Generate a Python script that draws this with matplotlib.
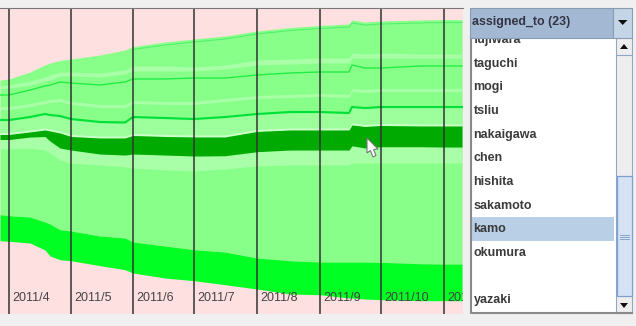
import matplotlib
matplotlib.use("Agg")
import matplotlib.pyplot as plt
from matplotlib.patches import Rectangle, Polygon
import numpy as np

plt.rcParams['font.family'] = ['Liberation Sans', 'DejaVu Sans']

# stream boundaries along the time axis
xs = [0, 9, 30, 45, 50, 60, 71, 100, 125, 133, 165, 194, 225, 257, 290, 320, 349, 352, 365, 381, 420, 444, 462]
top = [80, 79, 72, 65, 63, 60.5, 59, 55, 50, 46.5, 42, 39, 36, 31, 27.5, 25.5, 24, 20, 22, 21, 20, 19.5, 19.5]
a_top = [86, 85, 81, 77, 75, 72, 72, 73, 70, 66, 66, 67, 65, 60, 59, 58, 58, 53, 54, 53, 54, 54, 54]
a_bot = [89, 88, 85, 81, 80, 76, 76, 77, 74, 71, 71, 71, 69, 65, 64, 63, 63, 58, 58, 58, 58, 58, 58]
line1 = [95, 95, 90, 86, 85, 82, 83, 85, 82, 79, 79, 78, 78, 75, 73, 72, 72, 65, 68, 68, 66, 66, 66]
b_mid = [108, 108, 105, 102, 101, 100, 103, 106, 106, 102, 103, 103, 100, 97, 96, 95, 96, 90, 91, 90, 90, 90, 90]
line3 = [120, 120, 117, 114, 115, 116, 119, 122, 122.5, 117, 118, 119, 117, 114, 112, 112, 113, 107, 108, 107, 107, 107, 107]
dark_top = [134.5, 134.5, 132, 130, 131, 133, 136.5, 138, 138, 135.5, 136.5, 137, 137, 131.5, 130, 130, 130, 125, 126.5, 125.5, 126, 126, 126]
dark_bot = [139.5, 139.5, 137, 136.5, 141, 148, 150, 154, 155, 154, 155, 156, 155.7, 151.7, 150, 150, 150, 145.7, 148, 146.7, 146.7, 147, 147]
d_bot = [149, 149, 148, 150, 153, 160, 163, 165, 167, 168, 170, 171, 169, 166, 165, 165, 165, 163, 163, 163, 163, 163, 163]
bright_top = [214.7, 215.7, 217, 222, 224, 229.7, 231, 236, 238, 242, 246, 249.7, 252, 258, 260.7, 262, 262, 262, 262, 262.3, 263.7, 264, 264]
bright_bot = [240.7, 241.3, 243, 250, 256, 259.7, 260.7, 265.7, 269.7, 273, 278, 280.7, 284.7, 289, 294, 294.7, 298, 298, 299, 299.7, 300.7, 300.7, 300.7]

month_pos = [9.3, 70.7, 133.3, 194, 257.3, 320, 380.7, 444]
month_labels = ["2011/4", "2011/5", "2011/6", "2011/7", "2011/8", "2011/9", "2011/10", "201"]

names = ["fujiwara", "taguchi", "mogi", "tsliu", "nakaigawa", "chen", "hishita", "sakamoto", "kamo", "okumura", "", "yazaki"]
selected = "kamo"

MEDIUM = "#88ff88"
LIGHT = "#a8ffa8"
PINK = "#ffe0e0"

fig = plt.figure(figsize=(6.36, 3.26), dpi=100, facecolor="#f0f0f0")

# whole figure in pixels, used for the selector on the right
panel = fig.add_axes([0, 0, 1, 1])
panel.set_xlim(0, 636)
panel.set_ylim(326, 0)
panel.axis('off')

ax = fig.add_axes([0, 1 - 314 / 326, 463 / 636, 306 / 326])
ax.set_xlim(0, 463)
ax.set_ylim(314, 8)
ax.set_facecolor(PINK)
for s in ax.spines.values():
    s.set_visible(False)
ax.spines['top'].set_visible(True)
ax.spines['top'].set_color("#777777")
ax.set_xticks([])
ax.set_yticks([])

x = np.array(xs)
ax.fill_between(x, top, bright_top, color=MEDIUM, lw=0)
ax.fill_between(x, a_top, a_bot, color=LIGHT, lw=0)
ax.fill_between(x, np.array(b_mid) - 1.5, np.array(b_mid) + 1.5, color=LIGHT, lw=0)
ax.fill_between(x, np.array(line3) + 1, dark_top, color="#9cff9c", lw=0)
ax.fill_between(x, np.array(dark_top) - 2, dark_top, color="#ccffcc", lw=0)
ax.fill_between(x, dark_bot, d_bot, color=LIGHT, lw=0)
ax.plot(x, line1, color="#22ee44", lw=1.0)
ax.plot(x, line3, color="#00e03a", lw=1.5)
# thin line under the top edge, only from June on
ax.plot(x[9:], np.array(top[9:]) + 3, color="#55f070", lw=0.8)
ax.fill_between(x, dark_top, dark_bot, color="#00aa00", lw=0)
ax.fill_between(x, bright_top, bright_bot, color="#00ff22", lw=0)

for m, lab in zip(month_pos, month_labels):
    ax.axvline(m, color="#333333", lw=1.1)
    ax.text(m + 3.3, 298, lab, color="#444444", fontsize=9, va='center', ha='left', clip_on=True)

# mouse pointer
ax.add_patch(Polygon([(367, 138), (367, 153), (370.5, 150.5), (373, 157), (376, 155.5), (373.5, 149.5), (378, 149)],
                     closed=True, fc="white", ec="#777777", lw=0.8, zorder=5))

# drop-down list
panel.add_patch(Rectangle((470, 37), 146, 276, fc="white", ec="none"))
panel.plot([471, 471, 632], [37, 313, 313], color="#8a8a8a", lw=1.5)
row_h = 23.65
for i, name in enumerate(names):
    yc = 40 + i * row_h
    if name == selected:
        panel.add_patch(Rectangle((472, yc - 12), 142, 24, fc="#b8cfe5", ec="none"))
    if name:
        panel.text(473.5, yc, name, fontsize=9, fontweight='bold', color="#3a3a3a", va='center', ha='left')

# scrollbar
panel.add_patch(Rectangle((616, 37), 16, 276, fc="#eeeeee", ec="#8fa8c8", lw=0.8))
panel.add_patch(Rectangle((616.5, 176), 15, 120, fc="#d5e3f5", ec="#7f9fd0", lw=0.9))
panel.plot([616.5, 631.5], [55, 55], color="#8fa8c8", lw=0.8)
panel.add_patch(Polygon([(620, 49), (628, 49), (624, 44)], fc="#111111", ec="none"))
panel.add_patch(Polygon([(620, 303), (628, 303), (624, 308)], fc="#111111", ec="none"))
for gy in (235, 237, 239):
    panel.plot([620, 629], [gy, gy], color="#8aa4cc", lw=0.7)

# combo header, drawn last so it covers the clipped first row
panel.add_patch(Rectangle((470, 7.5), 143, 30, fc="#a3b8d2", ec="#8a9cb0", lw=0.8, zorder=3))
panel.add_patch(Rectangle((613, 7.5), 19, 30, fc="#c5d5e8", ec="#8a9cb0", lw=0.8, zorder=3))
panel.add_patch(Polygon([(618, 20), (627.5, 20), (622.7, 25)], fc="#111111", ec="none", zorder=4))
panel.text(472.5, 22.5, "assigned_to (23)", fontsize=8.9, fontweight='bold', color="#333344", va='center', ha='left', zorder=4)

fig.savefig("out.png", dpi=100, facecolor=fig.get_facecolor())
